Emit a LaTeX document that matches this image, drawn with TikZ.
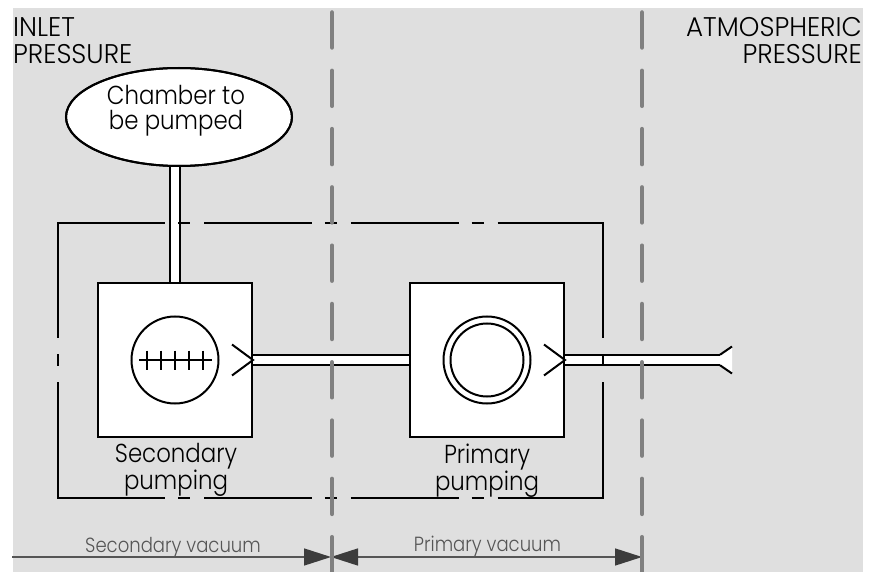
\documentclass[tikz,border=0pt]{standalone}
\usepackage{fontspec}
\setmainfont{Poppins}[UprightFont={* Light}, FakeStretch=0.88]
\newfontfamily\capsfont{Poppins}[UprightFont={* Light}, FakeStretch=0.97]
\usetikzlibrary{arrows.meta,shapes.geometric}
\definecolor{bggrey}{RGB}{223,223,223}
\definecolor{zonegrey}{RGB}{128,128,128}
\definecolor{vacgrey}{RGB}{85,85,85}
\definecolor{tipgrey}{RGB}{60,60,60}
\begin{document}
\begin{tikzpicture}[x=1pt,y=-1pt,
    pumpbox/.style={draw, line width=2pt, fill=white, minimum size=154pt, inner sep=0pt},
    chamberell/.style={ellipse, draw, line width=2pt, fill=white, minimum width=226pt, minimum height=98pt, inner sep=0pt},
    fan/.style={circle, draw, line width=2pt, inner sep=0pt},
    pipe/.style={line width=2pt, double=white, double distance=8.5pt},
    bound/.style={line width=1.5pt},
    zone/.style={zonegrey, line width=4.5pt, line cap=round, dash pattern=on 35pt off 23.3pt},
    vac/.style={vacgrey, line width=1.5pt},
    vactip/.tip={Triangle[length=27pt,width=17pt,color=tipgrey]},
    biglbl/.style={font=\capsfont\fontsize{27}{27}\selectfont, inner sep=0pt},
    lbl/.style={font=\fontsize{26}{25}\selectfont, inner sep=0pt, align=center, anchor=north},
    vaclbl/.style={font=\fontsize{20.5}{21}\selectfont, inner sep=0pt, text=vacgrey, anchor=base}]
\useasboundingbox (0,0) rectangle (876,572);
\fill[bggrey] (13,8) rectangle (863,572);

\node[biglbl, align=left, anchor=north west] (inlet) at (13,17.5) {INLET\\PRESSURE};
\node[biglbl, align=right, anchor=north east] (atmo) at (862,17.5) {ATMOSPHERIC\\PRESSURE};

\node[pumpbox] (secpump) at (175,360){};
\node[pumpbox] (primpump) at (487,360){};
\coordinate (outlet) at (721,360);

\draw[pipe] (secpump.east) -- (primpump.west);
\draw[pipe] (primpump.east) -- (outlet);
\fill[white] ([shift={(-1,-6)}]outlet) -- ++(12,-7.5) -- ++(0,27) -- ++(-12,-7.5) -- cycle;
\draw[line width=2pt] ([shift={(-1,-5.25)}]outlet) -- ++(12,-8.25) ([shift={(-1,5.25)}]outlet) -- ++(12,8.25);

\node[chamberell] (chamber) at (179,117){};
\draw[pipe] (secpump.north |- chamber.south) -- (secpump.north);
\node[chamberell, fill=none] (chamberrim) at (179,117){};
\node[lbl] (chamberlbl) at (176,85) {Chamber to\\be pumped};

\node[fan, minimum size=87pt] (secfan) at (secpump.center){};
\draw[line width=2pt] ([shift={(-36,0)}]secfan.center) -- ([shift={(37,0)}]secfan.center);
\foreach \dx in {-28,-14,0,14,28}
  \draw[line width=2pt] ([shift={(\dx,-9.5)}]secfan.center) -- ++(0,19);
\node[fan, minimum size=87pt] (primfan) at (primpump.center){};
\node[fan, minimum size=73pt] (primfanin) at (primpump.center){};

\draw[line width=2pt] ([shift={(-21,-15.5)}]secpump.east) -- (secpump.east) -- ([shift={(-21,15.5)}]secpump.east);
\draw[line width=2pt] ([shift={(-21,-15.5)}]primpump.east) -- (primpump.east) -- ([shift={(-21,15.5)}]primpump.east);

\node[lbl] (seclbl) at (176,443) {Secondary\\pumping};
\node[lbl] (primlbl) at (487,444) {Primary\\pumping};

\draw[bound, dash pattern=on 107.75pt off 13pt on 12pt off 14pt] (57.25,223) -- (603.75,223) (57.25,498) -- (603.75,498);
\draw[bound, dash pattern=on 115pt off 16pt on 12pt off 16pt] (58,223) -- (58,498) (603,223) -- (603,498);

\coordinate (vacstart) at (12,557);
\coordinate (vacmid) at (331,557);
\coordinate (vacend) at (642,557);
\draw[vac, -vactip] (vacstart) -- (vacmid);
\draw[vac, vactip-vactip] (vacmid) -- (vacend);
\node[vaclbl] (secvac) at (173,552) {Secondary vacuum};
\node[vaclbl] (primvac) at (487.5,551) {Primary vacuum};

\draw[zone] (332,12.5) -- (332,590);
\draw[zone] (642,12.5) -- (642,590);
\end{tikzpicture}
\end{document}
